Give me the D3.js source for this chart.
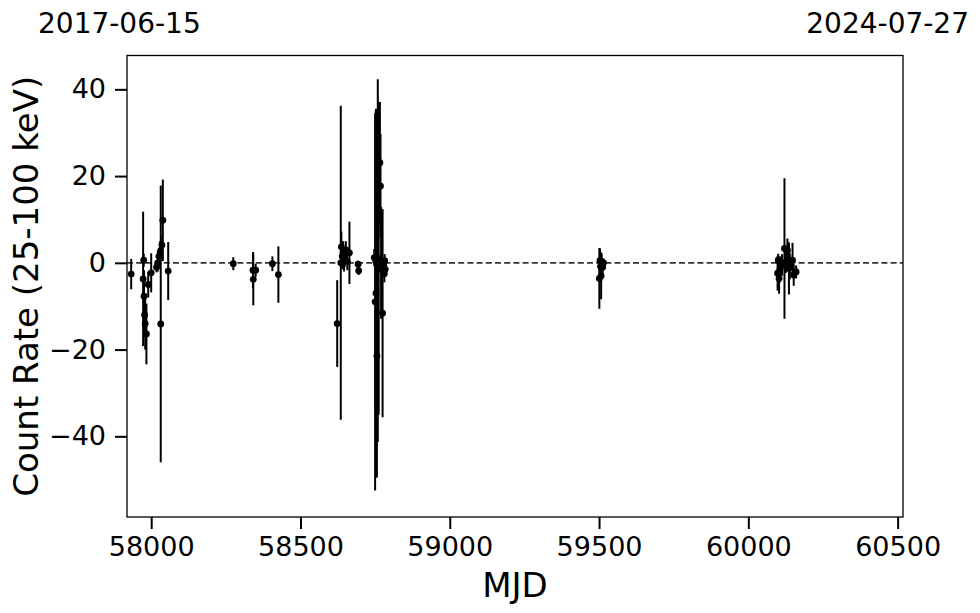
<!DOCTYPE html>
<html>
<head>
<meta charset="utf-8">
<script src="https://cdn.jsdelivr.net/npm/d3@7"></script>
<style>
  html, body { margin: 0; padding: 0; background: #fff; }
  svg { display: block; font-family: "DejaVu Sans", sans-serif; }
</style>
</head>
<body>
<svg id="chart" width="980" height="613"></svg>
<script>
// ---- data ----
const mjd = [
  57933, 57973, 57975, 57976, 57978, 57980, 57984, 57990, 58000, 58018, 58022, 58026, 58030, 58032, 58036, 58039, 58057,
  58275, 58341, 58342, 58350, 58406, 58426,
  58623, 58635, 58637, 58640, 58643, 58646, 58648, 58652, 58657, 58664, 58693, 58695,
  58747, 58750, 58752, 58753, 58756, 58759, 58762, 58766, 58768, 58770, 58772, 58775, 58777, 58779, 58781, 58782, 58784,
  59501, 59503, 59505, 59507, 59509, 59512, 59515,
  60098, 60100, 60103, 60106, 60113, 60121, 60126, 60131, 60136, 60139, 60148, 60152, 60160
];
const rate = [
  -2.6, -3.7, 0.6, -7.7, -12, -14, -16.4, -5, -2.3, -1, 0, 1.5, 2.5, -14.1, 4.1, 9.8, -1.9,
  -0.2, -1.7, -3.8, -1.7, -0.2, -2.7,
  -14, 0, 3.7, 1.5, 2.5, 0.5, 1.0, 3.0, 0.3, 2.3, -0.3, -1.8,
  1.2, -9, 0.5, -7, -21.5, 0.5, 1, 23.1, 17.7, 0, -1.5, -11.6, -1, -0.5, -2.5, 0.5, -1.5,
  -3.6, 0.5, -0.8, -3.0, 0.3, -1, 0,
  -2.4, 0.6, -3.6, -1.5, -0.5, 3.3, 0.2, 2.9, -1.3, -0.8, 0.6, -2.8, -2.1
];
const rateErr = [
  3.5, 15.5, 1.5, 6, 4, 6, 7, 3, 4.5, 1.2, 2, 2, 2.5, 31.9, 2, 9.4, 6.7,
  1.5, 4.2, 6, 1.5, 1.7, 6.5,
  10, 36.2, 3.5, 3, 2.5, 2.5, 2, 2, 2, 7.2, 0.8, 1,
  2, 43.5, 34.5, 42.5, 28, 41.8, 36, 14, 12, 12.9, 3, 24, 2, 1.5, 2, 1.5, 1.5,
  7, 2.8, 2.2, 5.4, 1.8, 1.5, 1,
  4, 1.5, 3.5, 3, 2.5, 16.2, 2.5, 2.7, 6, 3, 4, 2.5, 1.5
];
const xDomain = [57919, 60518];
const yDomain = [-58.6, 47.8];
const xTicks = [58000, 58500, 59000, 59500, 60000, 60500];
const yTicks = [-40, -20, 0, 20, 40];
const startDate = "2017-06-15";
const endDate = "2024-07-27";
const xLabel = "MJD";
const yLabel = "Count Rate (25-100 keV)";

// ---- layout ----
const L = 127, R = 903, T = 55.5, B = 517;
const svg = d3.select("#chart");
const x = d3.scaleLinear().domain(xDomain).range([L, R]);
const y = d3.scaleLinear().domain(yDomain).range([B, T]);

// zero line
svg.append("line")
  .attr("x1", L).attr("x2", R)
  .attr("y1", y(0)).attr("y2", y(0))
  .attr("stroke", "#333").attr("stroke-width", 1.6)
  .attr("stroke-dasharray", "6,3.2");

const pts = mjd.map((m, i) => ({ m, r: rate[i], e: rateErr[i] }));
const g = svg.append("g");
g.selectAll("line.err").data(pts).enter().append("line")
  .attr("class", "err")
  .attr("x1", d => x(d.m)).attr("x2", d => x(d.m))
  .attr("y1", d => y(d.r + d.e)).attr("y2", d => y(d.r - d.e))
  .attr("stroke", "#000").attr("stroke-width", 2);
g.selectAll("circle").data(pts).enter().append("circle")
  .attr("cx", d => x(d.m)).attr("cy", d => y(d.r)).attr("r", 3.4)
  .attr("fill", "#000");

// axes
const fmtY = d => (d < 0 ? "\u2212" + Math.abs(d) : String(d));
const xAxis = d3.axisBottom(x).tickValues(xTicks).tickFormat(d => String(d))
  .tickSizeInner(12).tickSizeOuter(0).tickPadding(8);
const yAxis = d3.axisLeft(y).tickValues(yTicks).tickFormat(fmtY)
  .tickSizeInner(12).tickSizeOuter(0).tickPadding(9);

const gx = svg.append("g").attr("transform", `translate(0,${B})`).call(xAxis);
const gy = svg.append("g").attr("transform", `translate(${L},0)`).call(yAxis);
[gx, gy].forEach(a => {
  a.select(".domain").remove();
  a.selectAll(".tick line").attr("stroke", "#000").attr("stroke-width", 2);
  a.selectAll(".tick text").attr("fill", "#000")
    .style("font-family", "DejaVu Sans").style("font-size", "27px");
});

// frame
svg.append("rect").attr("x", L).attr("y", T).attr("width", R - L).attr("height", B - T)
  .attr("fill", "none").attr("stroke", "#000").attr("stroke-width", 1.3);

// labels
svg.append("text").attr("x", (L + R) / 2).attr("y", 597)
  .attr("text-anchor", "middle").style("font-size", "34px").text(xLabel);
svg.append("text")
  .attr("transform", `translate(38,${(T + B) / 2}) rotate(-90)`)
  .attr("text-anchor", "middle").style("font-size", "34px").text(yLabel);

svg.append("text").attr("x", 38).attr("y", 33)
  .attr("text-anchor", "start").style("font-size", "28px").text(startDate);
svg.append("text").attr("x", 969).attr("y", 33)
  .attr("text-anchor", "end").style("font-size", "28px").text(endDate);
</script>
</body>
</html>
